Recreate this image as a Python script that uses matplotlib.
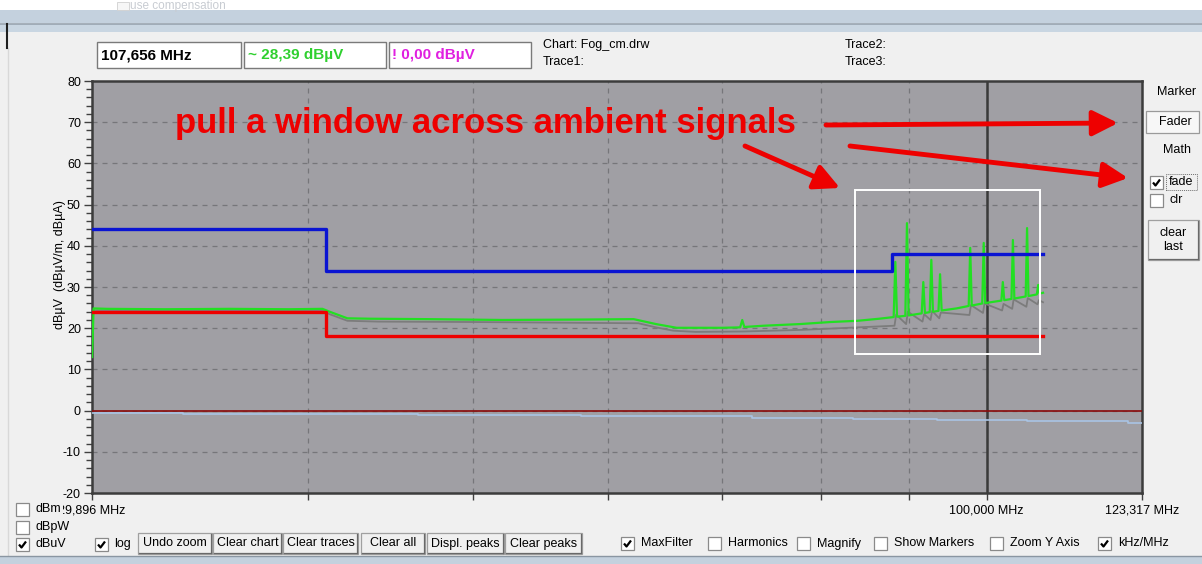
import matplotlib
matplotlib.use("Agg")
import matplotlib.pyplot as plt
from matplotlib.patches import Rectangle
from matplotlib.lines import Line2D
from matplotlib.ticker import FixedLocator, FixedFormatter, MultipleLocator, NullLocator

plt.rcParams["axes.unicode_minus"] = False

W, H = 1202, 564
PANEL = "#f0f0f0"
UI_FONT = ["Liberation Sans", "DejaVu Sans"]

# ---------------- data ----------------
y_ticks = [-20, -10, 0, 10, 20, 30, 40, 50, 60, 70, 80]
x_grid_freqs = [40, 50, 60, 70, 80, 90, 100]
x_tick_freqs = [29.896, 40, 50, 60, 70, 80, 90, 100, 123.317]
x_tick_labels = ["29,896 MHz", "", "", "", "", "", "", "100,000 MHz", "123,317 MHz"]
x_range = [29.896, 123.317]
y_range = [-20, 80]

blue_limit_freq = [29.896, 41.0, 88.0, 107.9]
blue_limit_level = [44, 34, 38, 38]
red_limit_freq = [29.896, 41.0, 107.9]
red_limit_level = [24, 18, 18]

green_freq = [29.90, 29.96, 30.5, 33, 36, 39, 40.8, 41.2, 42.2, 43.5,
              47, 52, 58, 62.1, 64.0, 65.8, 67.5, 70, 71.7, 71.9,
              72.1, 74, 77.7, 81, 84, 86.5, 88.2, 88.4, 88.6, 89.6,
              89.8, 90.0, 91.6, 91.8, 92.0, 92.6, 92.8, 93.0, 93.7, 93.9,
              94.1, 96, 97.6, 97.8, 98.0, 99.4, 99.6, 99.8, 102.0, 102.2,
              102.4, 103.4, 103.6, 103.8, 105.4, 105.6, 105.8, 107.0, 107.2, 107.4,
              107.9]
green_level = [13.0, 24.8, 24.7, 24.6, 24.7, 24.6, 24.7, 24.0, 22.4, 22.3,
               22.2, 22.0, 22.1, 22.2, 21.0, 20.1, 20.1, 20.1, 20.2, 22.0,
               20.3, 20.6, 21.0, 21.5, 21.8, 22.3, 22.7, 36.1, 22.8, 23.0,
               45.5, 23.1, 23.6, 31.2, 23.7, 23.9, 36.6, 24.0, 24.2, 33.1,
               24.3, 24.8, 25.4, 39.5, 25.5, 26.0, 40.7, 26.1, 26.7, 31.2,
               26.8, 27.1, 41.4, 27.2, 27.7, 44.3, 27.8, 28.2, 30.5, 28.4,
               28.6]

grey_freq = [29.96, 40.8, 41.2, 42.2, 44, 50, 58, 62.5, 64.0, 65.5,
             67.5, 72, 78, 84, 88.3, 88.5, 89.7, 89.9, 91.7, 91.9,
             92.7, 92.9, 93.8, 94.0, 97.7, 97.9, 99.5, 99.7, 102.1, 102.3,
             103.5, 103.7, 105.5, 105.7, 107.1, 107.3, 107.9]
grey_level = [24.3, 24.3, 23.4, 21.8, 21.6, 21.5, 21.3, 21.2, 20.2, 19.4,
              19.1, 19.2, 19.6, 20.2, 20.6, 23.3, 21.0, 24.0, 21.6, 23.4,
              22.0, 24.2, 22.4, 23.8, 23.2, 25.6, 23.7, 26.0, 24.3, 25.9,
              24.7, 27.0, 25.2, 27.3, 25.8, 26.8, 26.3]

lightblue_freq = [29.896, 33.8, 46.4, 57.8, 72.9, 83.5, 93.5, 105.6, 121.0, 123.317]
lightblue_level = [-0.5, -0.8, -1.0, -1.3, -1.75, -2.0, -2.3, -2.6, -2.9, -2.9]

zero_freq = [29.896, 123.317]
zero_level = [0, 0]

cursor_freq = 100.0
window_freq = [83.7, 107.5]
window_level = [13.7, 53.5]

annotation_text = "pull a window across ambient signals"

# ---------------- figure ----------------
fig = plt.figure(figsize=(W / 100, H / 100), dpi=100)
fig.patch.set_facecolor(PANEL)


def fx(x):
    return x / W


def fy(y):
    return 1 - y / H


def rect(x0, y0, x1, y1, fc, ec="none", lw=1.0, z=2, ls="-"):
    fig.add_artist(Rectangle((fx(x0), fy(y1)), (x1 - x0) / W, (y1 - y0) / H,
                             transform=fig.transFigure, facecolor=fc,
                             edgecolor=ec, lw=lw, zorder=z, linestyle=ls))


def hline(x0, x1, y, color, lw=1.0, z=3):
    fig.add_artist(Line2D([fx(x0), fx(x1)], [fy(y), fy(y)], transform=fig.transFigure,
                          color=color, lw=lw, zorder=z))


def vline(x, y0, y1, color, lw=1.0, z=3):
    fig.add_artist(Line2D([fx(x), fx(x)], [fy(y0), fy(y1)], transform=fig.transFigure,
                          color=color, lw=lw, zorder=z))


def label(x, y, s, size=9, color="black", ha="left", weight="normal", z=6):
    fig.text(fx(x), fy(y), s, ha=ha, va="center", fontsize=size, color=color,
             family=UI_FONT, fontweight=weight, zorder=z)


def checkbox(x, y, checked, z=6):
    rect(x, y, x + 13, y + 13, "white", "#8a8a8a", lw=0.9, z=z)
    if checked:
        fig.add_artist(Line2D([fx(x + 3), fx(x + 5.5), fx(x + 10)],
                              [fy(y + 6.5), fy(y + 9.5), fy(y + 3.5)],
                              transform=fig.transFigure, color="black", lw=1.6,
                              zorder=z + 1, solid_capstyle="butt"))


def button(x0, y0, x1, y1, s, size=9, z=5):
    rect(x0, y0, x1, y1, "#f0f0f0", "#a0a0a0", lw=0.9, z=z)
    hline(x0 + 1, x1 - 1, y1 - 1, "#696969", lw=0.9, z=z + 0.1)
    vline(x1 - 1, y0 + 1, y1 - 1, "#696969", lw=0.9, z=z + 0.1)
    label((x0 + x1) / 2, (y0 + y1) / 2, s, size=size, ha="center", z=z + 1)


# window chrome
rect(0, 0, W, 10, "white", z=1)
rect(0, 10, W, 23, "#c4d1de", z=1)
hline(0, W, 23.5, "#98a4b0", lw=1.2, z=1.5)
rect(0, 24, W, 32, "#c9d6e2", z=1)
vline(7, 24, 48, "#202020", lw=1.5)
vline(8, 48, 556, "#d8d8d8", lw=1.0, z=1.5)
label(130, 6, "use compensation", size=8.5, color="#c8ccd2", z=1.6)
rect(117, 2, 129, 10, "#f6f6f6", "#d0d0d0", lw=0.6, z=1.6)
rect(0, 556, W, H, "#c4d1de", z=1)
hline(0, W, 556, "#8a96a2", lw=1.0, z=1.5)

# read-out boxes
rect(97, 42, 241, 68, "white", "#7a7a7a", lw=1.0)
rect(244, 42, 386, 68, "white", "#7a7a7a", lw=1.0)
rect(389, 42, 531, 68, "white", "#7a7a7a", lw=1.0)
label(101, 55.5, "107,656 MHz", size=11, weight="bold")
label(248, 55.5, "~ 28,39 dBµV", size=11, weight="bold", color="#2fd02f")
label(392, 55.5, "! 0,00 dBµV", size=11, weight="bold", color="#e020e0")
label(543, 45, "Chart: Fog_cm.drw", size=9)
label(543, 62, "Trace1:", size=9)
label(845, 45, "Trace2:", size=9)
label(845, 62, "Trace3:", size=9)

# right panel
label(1177, 92, "Marker", size=9, ha="center")
rect(1146, 111, 1199, 133, "#f7f7f7", "#9a9a9a", lw=0.9, z=5)
label(1175, 122, "Fader", size=9, ha="center")
label(1177, 150, "Math", size=9, ha="center")
checkbox(1150, 176, True)
rect(1166, 174, 1197, 190, "none", "#707070", lw=0.7, z=6, ls=(0, (1, 1)))
label(1169, 182, "fade", size=9)
checkbox(1150, 194, False)
label(1170, 200, "clr", size=9)
button(1148, 220, 1199, 260, "clear\nlast", size=9)

# bottom controls
checkbox(16, 503, False)
rect(33, 501, 63, 517, PANEL, z=6.5)
label(36, 509, "dBm", size=9, z=7)
checkbox(16, 521, False)
label(36, 527, "dBpW", size=9)
checkbox(16, 538, True)
label(36, 544, "dBuV", size=9)
checkbox(95, 538, True)
label(114, 544, "log", size=9)
button(138, 533, 212, 554, "Undo zoom")
button(213, 533, 282, 554, "Clear chart")
button(283, 533, 358, 554, "Clear traces")
button(361, 533, 425, 554, "Clear all")
button(427, 533, 504, 554, "Displ. peaks")
button(505, 533, 582, 554, "Clear peaks")
for cx, txt, chk in [(621, "MaxFilter", True), (708, "Harmonics", False),
                     (797, "Magnify", False), (874, "Show Markers", False),
                     (990, "Zoom Y Axis", False), (1098, "kHz/MHz", True)]:
    checkbox(cx, 537, chk)
    label(cx + 20, 543.5, txt, size=9)

# ---------------- chart ----------------
ax = fig.add_axes([fx(92), fy(493), (1142 - 92) / W, (493 - 81) / H])
ax.set_facecolor("#a09fa4")
ax.set_xscale("log")
ax.set_xlim(x_range)
ax.set_ylim(y_range)

for f in x_grid_freqs:
    ax.axvline(f, color="#76767a", lw=0.9, ls=(0, (4, 4)), zorder=1)
for v in y_ticks[1:-1]:
    ax.axhline(v, color="#76767a", lw=0.9, ls=(0, (4, 4)), zorder=1)

ax.axvline(cursor_freq, color="#3a3a3a", lw=1.8, zorder=2)

ax.plot(lightblue_freq, lightblue_level, drawstyle="steps-post", color="#a9c4e4", lw=1.2, zorder=3)
ax.plot(zero_freq, zero_level, color="#8a0a0a", lw=1.2, zorder=3.5)
ax.plot(grey_freq, grey_level, color="#7c7c7c", lw=1.3, zorder=4)
ax.plot(green_freq, green_level, color="#22e022", lw=1.6, zorder=5)
ax.plot(red_limit_freq, red_limit_level, drawstyle="steps-post", color="#ee0000", lw=2.4, zorder=6)
ax.plot(blue_limit_freq, blue_limit_level, drawstyle="steps-post", color="#0a14d2", lw=2.4, zorder=7)
ax.add_patch(Rectangle((window_freq[0], window_level[0]), window_freq[1] - window_freq[0],
                       window_level[1] - window_level[0], fill=False, edgecolor="white",
                       lw=1.4, zorder=8))

ax.yaxis.set_major_locator(FixedLocator(y_ticks))
ax.yaxis.set_minor_locator(MultipleLocator(2))
ax.xaxis.set_major_locator(FixedLocator(x_tick_freqs))
ax.xaxis.set_major_formatter(FixedFormatter(x_tick_labels))
ax.xaxis.set_minor_locator(NullLocator())
ax.tick_params(axis="y", which="major", length=6, width=1, color="#404040", labelsize=9, pad=2)
ax.tick_params(axis="y", which="minor", length=4, width=1, color="#404040")
ax.tick_params(axis="x", which="major", length=5, width=1, color="#404040", labelsize=9, pad=3)
for t in ax.get_xticklabels() + ax.get_yticklabels():
    t.set_family(UI_FONT)
for s in ax.spines.values():
    s.set_color("#3c3c3c")
    s.set_linewidth(1.8)

fig.text(fx(60), fy(265), "dBµV  (dBµV/m, dBµA)", rotation=90, ha="center", va="center",
         fontsize=9, family=UI_FONT)

# annotation text and arrows
fig.text(fx(485), fy(124), annotation_text, ha="center", va="center", fontsize=25,
         fontweight="bold", color="#ee0000", family=UI_FONT, zorder=10)


def arrow(x0, y0, x1, y1):
    fig.add_artist(matplotlib.patches.FancyArrowPatch(
        (fx(x0), fy(y0)), (fx(x1), fy(y1)), transform=fig.transFigure,
        arrowstyle="-|>,head_length=0.7,head_width=0.35", mutation_scale=22,
        color="#ee0000", lw=3.5, zorder=10, shrinkA=0, shrinkB=0))


arrow(826, 125, 1118, 123)
arrow(745, 146, 840, 188)
arrow(850, 146, 1128, 178)

fig.savefig("out.png", dpi=100, facecolor=PANEL)
